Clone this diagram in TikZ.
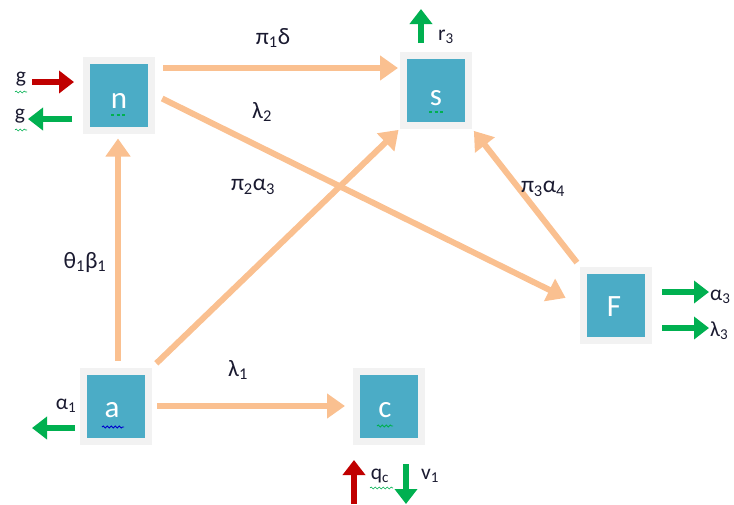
\documentclass[tikz,border=0pt]{standalone}
\usepackage{fontspec}
\setmainfont{Carlito}
\usetikzlibrary{arrows.meta,decorations.pathmorphing}
\definecolor{peach}{HTML}{FAC090}
\definecolor{boxblue}{HTML}{4BACC6}
\definecolor{frame}{HTML}{F2F2F2}
\definecolor{agreen}{HTML}{00B050}
\definecolor{ared}{HTML}{C00000}
\definecolor{txt}{HTML}{1A1A30}
\begin{document}
\begin{tikzpicture}[x=1pt,y=-1pt,
  box/.style={draw=frame, line width=7pt, fill=boxblue, minimum width=65pt, minimum height=70pt, inner sep=0pt},
  boxtxt/.style={text=white, font=\fontsize{31}{31}\selectfont, inner sep=0pt},
  flow/.style={draw=peach, line width=6pt, -{Triangle[length=18pt,width=24pt]}},
  lab/.style={font=\fontsize{23.5}{23.5}\selectfont, text=txt, inner sep=0pt},
  slab/.style={font=\fontsize{21.5}{21.5}\selectfont, text=txt, inner sep=0pt},
  garr/.style={draw=agreen, line width=6.5pt, -{Triangle[length=15pt,width=22pt]}},
  rarr/.style={draw=ared, line width=6.5pt, -{Triangle[length=15pt,width=22pt]}},
  wavy/.style={decorate, decoration={snake, amplitude=1pt, segment length=4pt}, line width=0.9pt},
  dots/.style={draw=agreen, line width=2pt, dash pattern=on 3pt off 2.5pt}
]
\useasboundingbox (0,0) rectangle (734,504);
% boxes
\node[box] (n) at (119,95) {};
\node[box] (s) at (436,90) {};
\node[box] (F) at (616,305) {};
\node[box] (a) at (116,406) {};
\node[box] (c) at (389,406) {};
\node[boxtxt] (nt) at (119,101) {n};
\node[boxtxt] (st) at (436,98) {s};
\node[boxtxt] (Ft) at (614,307) {F};
\node[boxtxt] (at) at (112,410) {a};
\node[boxtxt] (ct) at (385,410) {c};
% spell-check marks
\draw[dots] (111,115) -- (127,115);
\draw[dots] (429,112) -- (443,112);
\draw[wavy, draw=blue!80!black] (102,427) -- (124,427);
\draw[wavy, draw=agreen] (377,426) -- (393,426);
% flows
\draw[flow, shorten <=8pt, shorten >=2pt] ([yshift=27pt]n.east) -- ([yshift=27pt]n.east -| s.west);
\draw[flow, shorten <=8pt, shorten >=16pt] (n.east) -- (F.west);
\draw[flow, shorten <=7pt, shorten >=5pt] ([xshift=2pt]a.north) -- ([xshift=2pt]a.north |- n.south);
\draw[flow, shorten <=6pt, shorten >=2pt] (a.north east) -- (s.south west);
\draw[flow, shorten <=5pt, shorten >=8pt] (a.east) -- (c.west);
\draw[flow, shorten <=5pt, shorten >=3pt] (F.north west) -- (s.south east);
% flow labels
\node[lab] (l1) at (273,38) {π\textsubscript{1}δ};
\node[lab] (l2) at (262,112) {λ\textsubscript{2}};
\node[lab] (l3) at (253,187) {π\textsubscript{2}α\textsubscript{3}};
\node[lab] (l4) at (85,262) {θ\textsubscript{1}β\textsubscript{1}};
\node[lab] (l5) at (238,370) {λ\textsubscript{1}};
\node[lab] (l6) at (543,189) {π\textsubscript{3}α\textsubscript{4}};
% external arrows
\coordinate (g1a) at (32,82);
\coordinate (g1b) at (74,82);
\draw[rarr] (g1a) -- (g1b);
\node[slab] (g1) at (21,79) {g};
\coordinate (g2a) at (72,119);
\coordinate (g2b) at (28,119);
\draw[garr] (g2a) -- (g2b);
\node[slab] (g2) at (20,116) {g};
\draw[wavy, draw=agreen, line width=0.6pt] (15,92) -- (27,92);
\draw[wavy, draw=agreen, line width=0.6pt] (15,130) -- (27,130);
\coordinate (r3a) at (421,43);
\coordinate (r3b) at (421,9);
\draw[garr] (r3a) -- (r3b);
\node[slab] (r3) at (446,37) {r\textsubscript{3}};
\coordinate (f1a) at (662,292);
\coordinate (f1b) at (709,292);
\draw[garr] (f1a) -- (f1b);
\node[slab, anchor=west] (a3) at (710,297) {α\textsubscript{3}};
\coordinate (f2a) at (662,328);
\coordinate (f2b) at (709,328);
\draw[garr] (f2a) -- (f2b);
\node[slab, anchor=west] (l3b) at (710,331) {λ\textsubscript{3}};
\node[slab] (a1) at (66,406) {α\textsubscript{1}};
\coordinate (aa) at (75,428);
\coordinate (ab) at (32,428);
\draw[garr] (aa) -- (ab);
\coordinate (qa) at (354,504);
\coordinate (qb) at (354,460);
\draw[rarr] (qa) -- (qb);
\node[slab] (qc) at (380,476) {q\textsubscript{c}};
\draw[wavy, draw=agreen, line width=0.6pt] (370,488) -- (393,488);
\coordinate (va) at (406,464);
\coordinate (vb) at (406,504);
\draw[garr] (va) -- (vb);
\node[slab] (v1) at (430,476) {v\textsubscript{1}};
\end{tikzpicture}
\end{document}
